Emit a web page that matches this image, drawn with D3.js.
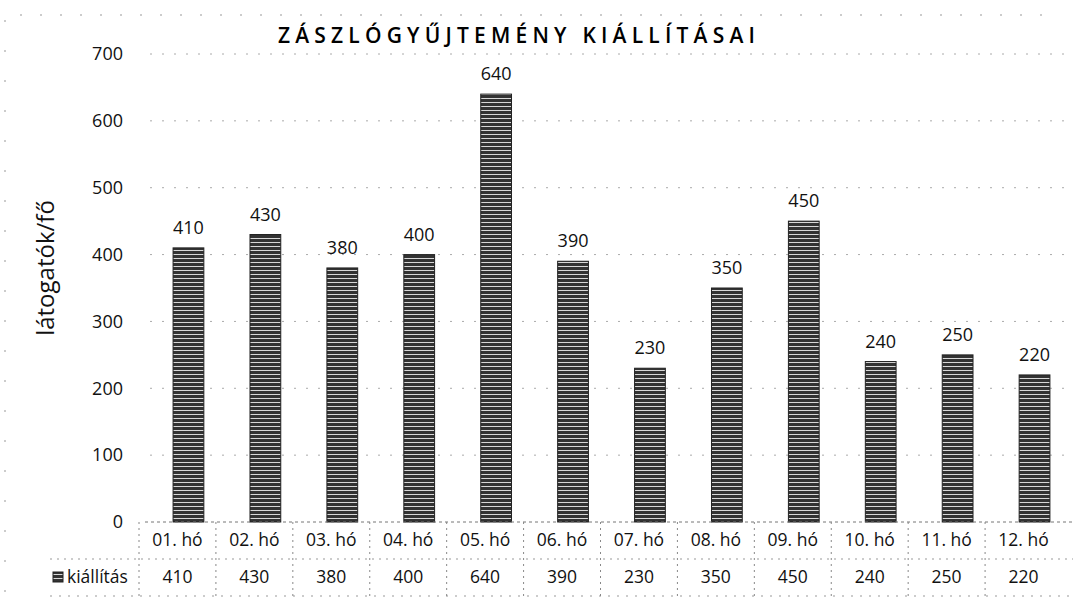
<!DOCTYPE html>
<html>
<head>
<meta charset="utf-8">
<script src="https://cdn.jsdelivr.net/npm/d3@7"></script>
<style>
  html, body { margin: 0; padding: 0; background: #fff; }
  svg { display: block; font-family: "Open Sans", "Noto Sans", sans-serif; }
</style>
</head>
<body>
<svg id="chart" width="1078" height="608"></svg>
<script>
const title = "ZÁSZLÓGYŰJTEMÉNY KIÁLLÍTÁSAI";
const yTitle = "látogatók/fő";
const seriesName = "kiállítás";
const categories = ["01. hó","02. hó","03. hó","04. hó","05. hó","06. hó","07. hó","08. hó","09. hó","10. hó","11. hó","12. hó"];
const values = [410, 430, 380, 400, 640, 390, 230, 350, 450, 240, 250, 220];
const yTicks = [0, 100, 200, 300, 400, 500, 600, 700];

const svg = d3.select("#chart");
const plot = { left: 150, right: 1073, top: 54, bottom: 522 };

// pattern for bars (scanned horizontal stripes)
const defs = svg.append("defs");
const pat = defs.append("pattern").attr("id", "stripes")
  .attr("patternUnits", "userSpaceOnUse").attr("width", 6).attr("height", 4);
pat.append("rect").attr("width", 6).attr("height", 4).attr("fill", "#333");
pat.append("rect").attr("y", 2).attr("width", 6).attr("height", 1).attr("fill", "#d8d8d8");

const x = d3.scaleBand().domain(categories).range([plot.left, plot.right])
  .paddingInner(0.6).paddingOuter(0.3);
const y = d3.scaleLinear().domain([0, 700]).range([plot.bottom, plot.top]);

// faint scan border
svg.append("line").attr("x1", 20).attr("x2", 1060).attr("y1", 15).attr("y2", 15)
  .attr("stroke", "#999").attr("stroke-width", 1).attr("stroke-dasharray", "2 18");
svg.append("line").attr("x1", 5).attr("x2", 5).attr("y1", 20).attr("y2", 600)
  .attr("stroke", "#999").attr("stroke-width", 1).attr("stroke-dasharray", "2 28");

// gridlines
svg.append("g").selectAll("line").data(yTicks.filter(d => d > 0)).join("line")
  .attr("x1", plot.left).attr("x2", plot.right)
  .attr("y1", d => y(d)).attr("y2", d => y(d))
  .attr("stroke", "#aaa").attr("stroke-width", 1).attr("stroke-dasharray", "2 10");

// y axis labels
const yAxis = d3.axisLeft(y).tickValues(yTicks).tickSize(0).tickPadding(0).tickFormat(d3.format("d"));
const gy = svg.append("g").attr("transform", `translate(123,0)`).call(yAxis);
gy.select(".domain").remove();
gy.selectAll("text").attr("font-size", 18).attr("fill", "#111")
  .attr("font-family", "'Open Sans', sans-serif");

// y title
svg.append("text").attr("transform", `translate(48,${(plot.top + plot.bottom) / 2 - 20}) rotate(-90)`)
  .attr("text-anchor", "middle").attr("dominant-baseline", "middle")
  .attr("font-size", 24).attr("fill", "#111").text(yTitle);

// title
svg.append("text").attr("x", 519).attr("y", 43).attr("text-anchor", "middle")
  .attr("font-size", 21).attr("font-weight", 600).attr("letter-spacing", "5.2px")
  .attr("fill", "#000").text(title);

// bars
svg.append("g").selectAll("rect").data(values).join("rect")
  .attr("x", (d, i) => x(categories[i]))
  .attr("width", x.bandwidth())
  .attr("y", d => y(d))
  .attr("height", d => y(0) - y(d))
  .attr("fill", "url(#stripes)")
  .attr("stroke", "#222").attr("stroke-width", 1);

// data labels
svg.append("g").selectAll("text").data(values).join("text")
  .attr("x", (d, i) => x(categories[i]) + x.bandwidth() / 2)
  .attr("y", d => y(d) - 14)
  .attr("text-anchor", "middle").attr("font-size", 18).attr("fill", "#111")
  .text(d => d);

// data table
const tx = d3.scaleBand().domain(categories).range([139, 1062]);
const rowTop = plot.bottom, rowMid = 559, rowBot = 596;
const tbl = svg.append("g");
tbl.append("line").attr("x1", plot.left - 5).attr("x2", plot.right).attr("y1", rowTop).attr("y2", rowTop)
  .attr("stroke", "#777").attr("stroke-dasharray", "3 3");
tbl.append("line").attr("x1", 50).attr("x2", plot.right).attr("y1", rowMid).attr("y2", rowMid)
  .attr("stroke", "#999").attr("stroke-dasharray", "2 5");
tbl.append("line").attr("x1", 50).attr("x2", plot.right).attr("y1", rowBot).attr("y2", rowBot)
  .attr("stroke", "#999").attr("stroke-dasharray", "2 7");
tbl.selectAll(".vl").data(categories).join("line").attr("class", "vl")
  .attr("x1", d => tx(d)).attr("x2", d => tx(d))
  .attr("y1", rowTop).attr("y2", rowBot)
  .attr("stroke", "#888").attr("stroke-dasharray", "2 4");

tbl.selectAll(".cat").data(categories).join("text").attr("class", "cat")
  .attr("x", d => tx(d) + tx.bandwidth() / 2).attr("y", 541)
  .attr("text-anchor", "middle").attr("dominant-baseline", "middle")
  .attr("font-size", 17.5).attr("fill", "#111").text(d => d);
tbl.selectAll(".val").data(values).join("text").attr("class", "val")
  .attr("x", (d, i) => tx(categories[i]) + tx.bandwidth() / 2).attr("y", 578)
  .attr("text-anchor", "middle").attr("dominant-baseline", "middle")
  .attr("font-size", 17.5).attr("fill", "#111").text(d => d);

// legend key in table
tbl.append("rect").attr("x", 53).attr("y", 572).attr("width", 10).attr("height", 10)
  .attr("fill", "url(#stripes)").attr("stroke", "#222");
tbl.append("text").attr("x", 67).attr("y", 578).attr("dominant-baseline", "middle")
  .attr("font-size", 17.5).attr("fill", "#111").text(seriesName);
</script>
</body>
</html>
